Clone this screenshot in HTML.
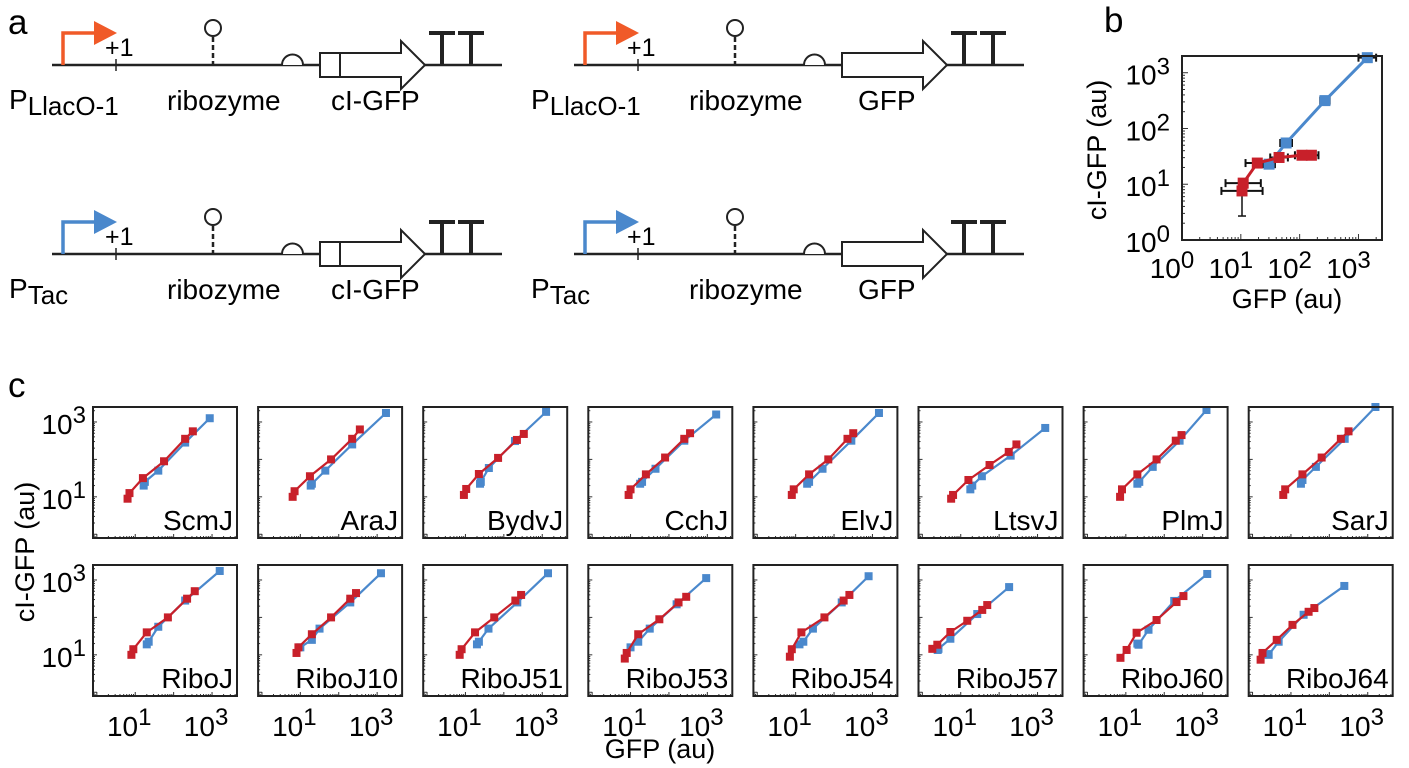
<!DOCTYPE html>
<html><head><meta charset="utf-8"><style>
html,body{margin:0;padding:0;background:#fff;}
svg{display:block;font-family:"Liberation Sans",Arial,sans-serif;}
</style></head><body>
<svg id="fig" width="1409" height="768" viewBox="0 0 1409 768" xmlns="http://www.w3.org/2000/svg">
<g id="panelA"></g>
<g id="panelB"></g>
<g id="panelC"></g>
</svg>
<script>
// ---- Panel b data (log10 units) ----
const bBlueX = [3.15, 2.43, 1.77, 1.48];
const bBlueY = [3.27, 2.5, 1.74, 1.36];
const bBlueErr = [0.15, 0.08, 0.1, 0.1];
const bRedX = [1.02, 1.04, 1.28, 1.65, 2.04, 2.2];
const bRedY = [0.88, 1.02, 1.38, 1.48, 1.52, 1.52];
const bRedErr = [0.35, 0.3, 0.2, 0.15, 0.12, 0.12];
const bTicks = [0, 1, 2, 3];

// ---- Panel c data (log10 units) ----
const cNames = ["ScmJ","AraJ","BydvJ","CchJ","ElvJ","LtsvJ","PlmJ","SarJ","RiboJ","RiboJ10","RiboJ51","RiboJ53","RiboJ54","RiboJ57","RiboJ60","RiboJ64"];
const cBlueX = [
 [2.94,2.3,1.6,1.25,1.22],[3.23,2.35,1.65,1.3,1.27],[3.1,2.29,1.61,1.4,1.38],[3.23,2.4,1.65,1.3,1.25],
 [3.17,2.45,1.7,1.35,1.3],[3.2,2.3,1.55,1.3,1.25],[3.1,2.4,1.7,1.35,1.3],[3.2,2.4,1.65,1.3,1.26],
 [3.2,2.3,1.6,1.35,1.3],[3.1,2.3,1.5,1.3,1.0],[3.15,2.35,1.6,1.35,1.3],[2.97,2.2,1.5,1.2,1.0],
 [2.9,2.2,1.45,1.2,1.1],[2.26,1.43,0.73,0.42,0.4],[3.12,2.26,1.59,1.33,1.3],[2.39,1.33,0.68,0.42,0.4]];
const cBlueY = [
 [3.1,2.45,1.7,1.4,1.3],[3.24,2.4,1.7,1.35,1.3],[3.27,2.49,1.77,1.4,1.35],[3.2,2.5,1.75,1.4,1.35],
 [3.24,2.5,1.75,1.4,1.35],[2.84,2.1,1.55,1.3,1.2],[3.32,2.5,1.8,1.4,1.35],[3.4,2.55,1.8,1.45,1.35],
 [3.24,2.45,1.75,1.35,1.28],[3.18,2.4,1.7,1.4,1.2],[3.18,2.4,1.7,1.35,1.28],[3.05,2.35,1.7,1.35,1.2],
 [3.1,2.4,1.7,1.35,1.28],[2.81,2.09,1.43,1.16,1.13],[3.16,2.44,1.67,1.27,1.3],[2.84,2.07,1.35,1.0,1.02]];
const cRedX = [
 [2.5,2.3,1.75,1.2,0.85,0.8],[2.55,2.35,1.8,1.25,0.85,0.8],[2.52,2.34,1.85,1.35,1.02,0.96],[2.55,2.4,1.9,1.4,1.0,0.95],
 [2.5,2.35,1.85,1.35,0.95,0.9],[2.45,2.25,1.75,1.2,0.8,0.75],[2.45,2.3,1.8,1.3,0.9,0.85],[2.5,2.3,1.8,1.3,0.85,0.8],
 [2.55,2.35,1.85,1.3,0.95,0.9],[2.45,2.3,1.8,1.3,0.95,0.9],[2.45,2.3,1.75,1.25,0.9,0.85],[2.45,2.25,1.75,1.2,0.9,0.85],
 [2.4,2.25,1.75,1.15,0.9,0.85],[1.69,1.56,1.17,0.73,0.39,0.26],[2.5,2.32,1.8,1.28,1.02,0.86],[1.61,1.46,1.04,0.63,0.26,0.21]];
const cRedY = [
 [2.75,2.55,1.95,1.5,1.1,0.95],[2.8,2.55,2.0,1.55,1.15,1.0],[2.68,2.52,2.04,1.61,1.21,1.05],[2.7,2.55,2.05,1.6,1.2,1.05],
 [2.7,2.55,2.0,1.6,1.2,1.05],[2.4,2.2,1.85,1.45,1.05,0.95],[2.65,2.5,2.0,1.6,1.2,1.0],[2.75,2.55,2.05,1.6,1.2,1.05],
 [2.7,2.5,2.0,1.6,1.15,1.0],[2.65,2.5,2.0,1.55,1.2,1.05],[2.6,2.45,2.0,1.6,1.15,1.0],[2.55,2.4,1.95,1.55,1.05,0.9],
 [2.6,2.45,2.0,1.6,1.15,0.95],[2.33,2.2,1.91,1.61,1.27,1.16],[2.57,2.41,1.93,1.59,1.13,0.92],[2.25,2.15,1.8,1.4,1.05,0.87]];
const cXTickLabels = ["1","3"];
const cYTickLabels = ["3","1"];

const NS="http://www.w3.org/2000/svg";
function mk(parent, tag, attrs, text){
  const e=document.createElementNS(NS,tag);
  for(const k in attrs) e.setAttribute(k,attrs[k]);
  if(text!==undefined) e.textContent=text;
  parent.appendChild(e); return e;
}
const BLUE="#4a88cc", RED="#c8202a";

// ---------- Panel a ----------
const A=document.getElementById('panelA');
const aLab=mk(A,'text',{x:8,y:34,'font-size':35},'a');


const constructs=[
 {dx:0,dy:0,col:"#f05a28",p:"LlacO-1",gene:"cI-GFP",split:true},
 {dx:522,dy:0,col:"#f05a28",p:"LlacO-1",gene:"GFP",split:false},
 {dx:0,dy:189,col:"#4a88cc",p:"Tac",gene:"cI-GFP",split:true},
 {dx:522,dy:189,col:"#4a88cc",p:"Tac",gene:"GFP",split:false}];
constructs.forEach((c,i)=>{
  const g=mk(A,'g',{transform:`translate(${c.dx},${c.dy})`});
  
  
  mk(g,'line',{x1:52,y1:65,x2:502,y2:65,stroke:'#222','stroke-width':2.5});
  const pr=mk(g,'path',{d:'M63 65 V33 H96',fill:'none',stroke:c.col,'stroke-width':3.5});
  
  
  mk(g,'polygon',{points:'94,21 117,33 94,45',fill:c.col});
  mk(g,'line',{x1:116,y1:59,x2:116,y2:71,stroke:'#222','stroke-width':1.5});
  mk(g,'text',{x:105,y:56,'font-size':25},'+1');
  mk(g,'circle',{cx:213,cy:28,r:8,fill:'none',stroke:'#222','stroke-width':2});
  mk(g,'line',{x1:213,y1:37,x2:213,y2:65,stroke:'#222','stroke-width':2.5,'stroke-dasharray':'5,3'});
  mk(g,'path',{d:'M282 65 A10.5 10.5 0 0 1 303 65',fill:'#fff',stroke:'#222','stroke-width':2});
  const gene=mk(g,'path',{d:'M320 53 H401 V41 L425 65 L401 89 V77 H320 Z',fill:'#fff',stroke:'#222','stroke-width':2});
  
  
  if(c.split) mk(g,'line',{x1:340,y1:53,x2:340,y2:77,stroke:'#222','stroke-width':2});
  [442,471].forEach(x=>{
    mk(g,'line',{x1:x,y1:32,x2:x,y2:65,stroke:'#222','stroke-width':4});
    mk(g,'line',{x1:x-13,y1:33,x2:x+13,y2:33,stroke:'#222','stroke-width':4});
  });
  const pt=mk(g,'text',{x:9,y:109,'font-size':28});
  mk(pt,'tspan',{},'P');
  mk(pt,'tspan',{'font-size':26,dy:6},c.p);
  mk(g,'text',{x:167,y:110,'font-size':28},'ribozyme');
  mk(g,'text',{x:c.split?331:336,y:110,'font-size':28},c.gene);
});

// ---------- generic log axis helpers ----------
function axes(x0,y0,w,h,xmin,xmax,ymin,ymax){
  return {sx:v=>x0+(v-xmin)/(xmax-xmin)*w, sy:v=>y0+h-(v-ymin)/(ymax-ymin)*h};
}
function minorTicks(g,ax,x0,y0,w,h,xmin,xmax,ymin,ymax,maj,mn){
  for(let d=Math.floor(xmin);d<=Math.ceil(xmax);d++){
    for(let m=1;m<10;m++){const v=d+Math.log10(m); if(v<xmin||v>xmax) continue;
      const x=ax.sx(v); mk(g,'line',{x1:x,y1:y0+h,x2:x,y2:y0+h-(m===1?maj:mn),stroke:'#333','stroke-width':1});}
  }
  for(let d=Math.floor(ymin);d<=Math.ceil(ymax);d++){
    for(let m=1;m<10;m++){const v=d+Math.log10(m); if(v<ymin||v>ymax) continue;
      const y=ax.sy(v); mk(g,'line',{x1:x0,y1:y,x2:x0+(m===1?maj:mn),y2:y,stroke:'#333','stroke-width':1});}
  }
}
function series(g,ax,xs,ys,col,sz,lw,name){
  const sg=mk(g,'g',{});
  
  
  mk(sg,'polyline',{points:xs.map((x,i)=>ax.sx(x)+','+ax.sy(ys[i])).join(' '),fill:'none',stroke:col,'stroke-width':lw,'stroke-linejoin':'round'});
  xs.forEach((x,i)=>{
    const r=mk(sg,'rect',{x:ax.sx(x)-sz/2,y:ax.sy(ys[i])-sz/2,width:sz,height:sz,fill:col});
    
    
  });
}

// ---------- Panel b ----------
const B=document.getElementById('panelB');
const bl=mk(B,'text',{x:1104,y:32,'font-size':35},'b');


const bx0=1182,by0=56,bw=200,bh=184;
const bax=axes(bx0,by0,bw,bh,0,3.4,0,3.3);
minorTicks(B,bax,bx0,by0,bw,bh,0,3.4,0,3.3,6,3);
function errX(ax,xs,ys,es){xs.forEach((x,i)=>{const y=ax.sy(ys[i]);
  mk(B,'line',{x1:ax.sx(x-es[i]),y1:y,x2:ax.sx(x+es[i]),y2:y,stroke:'#111','stroke-width':2});
  [x-es[i],x+es[i]].forEach(v=>mk(B,'line',{x1:ax.sx(v),y1:y-4,x2:ax.sx(v),y2:y+4,stroke:'#111','stroke-width':2}));});}
errX(bax,bBlueX,bBlueY,bBlueErr);
errX(bax,bRedX,bRedY,bRedErr);
mk(B,'line',{x1:bax.sx(bRedX[0]),y1:bax.sy(bRedY[0]-0.45),x2:bax.sx(bRedX[0]),y2:bax.sy(bRedY[0]+0.2),stroke:'#111','stroke-width':1.5});
mk(B,'line',{x1:bax.sx(bRedX[0])-4,y1:bax.sy(bRedY[0]-0.45),x2:bax.sx(bRedX[0])+4,y2:bax.sy(bRedY[0]-0.45),stroke:'#111','stroke-width':1.5});
series(B,bax,bBlueX,bBlueY,BLUE,11,3,'b-series-tac');
series(B,bax,bRedX,bRedY,RED,11,3,'b-series-llaco');
mk(B,'rect',{x:bx0,y:by0,width:bw,height:bh,fill:'none',stroke:'#222','stroke-width':2});
bTicks.forEach(t=>{
  const tx=mk(B,'text',{x:bax.sx(t)-10,y:278,'font-size':28,'text-anchor':'middle'});
  mk(tx,'tspan',{},'10'); mk(tx,'tspan',{dy:-10,'font-size':24},String(t));
  
  
  const ty=mk(B,'text',{x:1170,y:bax.sy(t)+12,'font-size':28,'text-anchor':'end'});
  mk(ty,'tspan',{},'10'); mk(ty,'tspan',{dy:-10,'font-size':24},String(t));
  
  
});
const bxt=mk(B,'text',{x:1287,y:308,'font-size':27,'text-anchor':'middle'},'GFP (au)');


const byt=mk(B,'text',{x:0,y:0,'font-size':27,'text-anchor':'middle',transform:'translate(1106,150) rotate(-90)'},'cI-GFP (au)');



// ---------- Panel c ----------
const C=document.getElementById('panelC');
const cl=mk(C,'text',{x:8,y:397,'font-size':35},'c');


const cW=144,cH=131,pitch=165.1;
cNames.forEach((nm,i)=>{
  const col=i%8,row=Math.floor(i/8);
  const x0=93+col*pitch, y0=407+row*158;
  const g=mk(C,'g',{});
  
  
  const ax=axes(x0,y0,cW,cH,-0.1,3.65,-0.1,3.4);
  minorTicks(g,ax,x0,y0,cW,cH,-0.1,3.65,-0.1,3.4,4,2);
  series(g,ax,cBlueX[i],cBlueY[i],BLUE,8,2.2,'blue-series');
  series(g,ax,cRedX[i],cRedY[i],RED,8,2.2,'red-series');
  mk(g,'rect',{x:x0,y:y0,width:cW,height:cH,fill:'none',stroke:'#222','stroke-width':2});
  const t=mk(g,'text',{x:x0+cW-4,y:y0+cH-8,'font-size':28,'text-anchor':'end'},nm);
  
  
  if(row===1){
    cXTickLabels.forEach(v=>{
      const tx=mk(g,'text',{x:ax.sx(+v)-6,y:736,'font-size':28,'text-anchor':'middle'});
      mk(tx,'tspan',{},'10'); mk(tx,'tspan',{dy:-11,'font-size':24},v);
      
      
    });
  }
  if(col===0){
    cYTickLabels.forEach(v=>{
      const ty=mk(g,'text',{x:86,y:ax.sy(+v)+12,'font-size':28,'text-anchor':'end'});
      mk(ty,'tspan',{},'10'); mk(ty,'tspan',{dy:-11,'font-size':24},v);
      
      
    });
  }
});
const cxt=mk(C,'text',{x:660,y:758,'font-size':27,'text-anchor':'middle'},'GFP (au)');


const cyt=mk(C,'text',{x:0,y:0,'font-size':27,'text-anchor':'middle',transform:'translate(34,552) rotate(-90)'},'cI-GFP (au)');


</script>
</body></html>
